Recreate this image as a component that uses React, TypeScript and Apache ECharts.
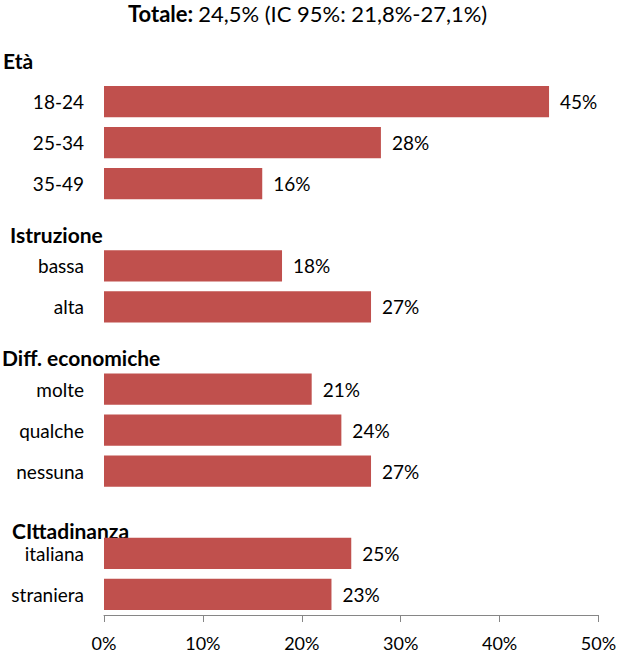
import React, { useEffect, useRef } from "react";
import * as echarts from "echarts";

const categories = ["18-24", "25-34", "35-49", "", "bassa", "alta", "", "molte", "qualche", "nessuna", "", "italiana", "straniera"];
const values: (number | string)[] = [45, 28, 16, "-", 18, 27, "-", 21, 24, 27, "-", 25, 23];
const groupHeadings = ["Età", "Istruzione", "Diff. economiche", "CIttadinanza"];
const xTicks = [0, 10, 20, 30, 40, 50];

const FONT = "Lato";

export default function App() {
  const ref = useRef<HTMLDivElement>(null);
  useEffect(() => {
    if (!ref.current) return;
    const chart = echarts.init(ref.current, null, { renderer: "svg" });
    const headingPos = [
      { x: 3, y: 63 },
      { x: 10, y: 237 },
      { x: 2, y: 360 },
      { x: 12, y: 533 },
    ];
    chart.setOption({
      animation: false,
      backgroundColor: "#ffffff",
      title: {
        text: "{b|Totale:} {r|24,5% (IC 95%: 21,8%-27,1%)}",
        left: 128,
        top: 0,
        padding: 0,
        textStyle: {
          rich: {
            b: { fontFamily: FONT, fontWeight: "bold", fontSize: 22, lineHeight: 27, color: "#000" },
            r: { fontFamily: FONT, fontWeight: "normal", fontSize: 22, lineHeight: 27, color: "#000" },
          },
        },
      },
      grid: { left: 104, right: 18.5, top: 81, bottom: 39, containLabel: false, outerBoundsMode: "none" },
      xAxis: {
        type: "value",
        min: xTicks[0],
        max: xTicks[xTicks.length - 1],
        interval: 10,
        axisLine: { show: true, lineStyle: { color: "#868686", width: 1 } },
        axisTick: { show: true, length: 7, lineStyle: { color: "#868686" } },
        splitLine: { show: false },
        axisLabel: {
          formatter: "{value}%",
          margin: 19,
          lineHeight: 17,
          fontFamily: FONT,
          fontSize: 18,
          color: "#000",
        },
      },
      yAxis: {
        type: "category",
        data: categories,
        inverse: true,
        axisLine: { show: false },
        axisTick: { show: false },
        axisLabel: { margin: 20, fontFamily: FONT, fontSize: 19, color: "#000" },
      },
      series: [
        {
          type: "bar",
          data: values,
          barCategoryGap: "24%",
          itemStyle: { color: "#C0504D" },
          label: {
            show: true,
            position: "right",
            distance: 11,
            formatter: "{c}%",
            fontFamily: FONT,
            fontSize: 19,
            color: "#000",
          },
        },
      ],
      graphic: groupHeadings.map((t, i) => ({
        type: "text",
        left: headingPos[i].x,
        top: headingPos[i].y - 13,
        style: { text: t, fontFamily: FONT, fontWeight: "bold", fontSize: 21, fill: "#000" },
      })),
    });
    return () => chart.dispose();
  }, []);
  return <div ref={ref} style={{ width: 617, height: 654, position: "absolute", left: 0, top: 0 }} />;
}
